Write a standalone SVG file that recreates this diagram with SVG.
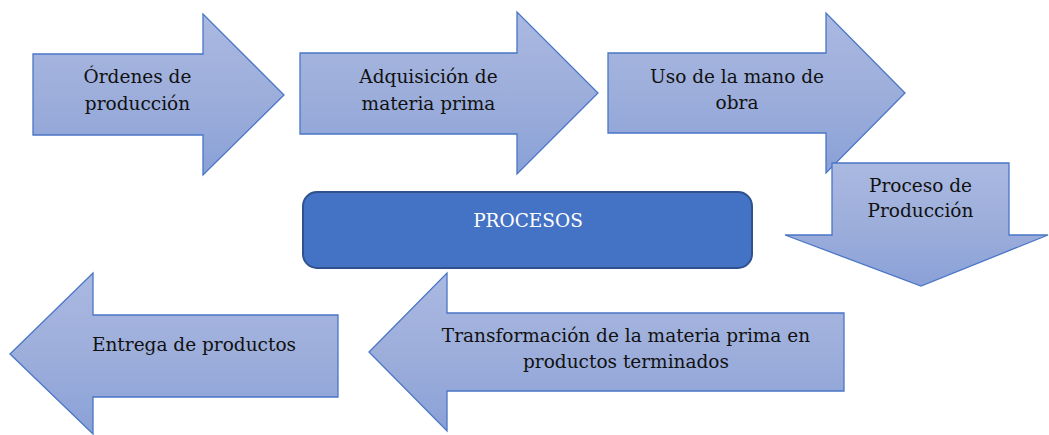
<svg xmlns="http://www.w3.org/2000/svg" width="1049" height="435" viewBox="0 0 1049 435">
<defs>
<linearGradient id="g" x1="0" y1="0" x2="0" y2="1">
<stop offset="0" stop-color="#AAB9E1"/>
<stop offset="0.5" stop-color="#9DAEDB"/>
<stop offset="1" stop-color="#8AA1D7"/>
</linearGradient>
<style>
.arr{fill:url(#g);stroke:#4A76C6;stroke-width:1.3;stroke-linejoin:miter}
.t{font-family:"DejaVu Serif","Liberation Serif",serif;font-size:18.5px;fill:#111;text-anchor:middle}
.w{fill:#FFFFFF}
</style>
</defs>
<rect width="1049" height="435" fill="#FFFFFF"/>
<g id="connectors"></g>
<g id="n1">
<polygon class="arr" points="33,54 203,54 203,14 284,95 203,175 203,135 33,135"/>
<text class="t" x="137.5" y="83">Órdenes de</text>
<text class="t" x="137.5" y="110">producción</text>
</g>
<g id="n2">
<polygon class="arr" points="300,53 517,53 517,12 598,93 517,174 517,134 300,134"/>
<text class="t" x="428.5" y="83">Adquisición de</text>
<text class="t" x="428.5" y="110">materia prima</text>
</g>
<g id="n3">
<polygon class="arr" points="608,53 826,53 826,13 905,93 826,173 826,133 608,133"/>
<text class="t" x="737" y="83">Uso de la mano de</text>
<text class="t" x="737" y="109">obra</text>
</g>
<g id="n4">
<polygon class="arr" points="832,163 1009,163 1009,235 1048,235 921,286 785,235 832,235"/>
<text class="t" x="920.5" y="192">Proceso de</text>
<text class="t" x="920.5" y="217">Producción</text>
</g>
<g id="procesos">
<rect x="303" y="192" width="449" height="76" rx="14" ry="14" fill="#4472C4" stroke="#2F528F" stroke-width="2"/>
<text class="t w" x="528" y="227">PROCESOS</text>
</g>
<g id="n5">
<polygon class="arr" points="844,313 447,313 447,273 369,352 447,431 447,391 844,391"/>
<text class="t" x="626" y="342">Transformación de la materia prima en</text>
<text class="t" x="626" y="368">productos terminados</text>
</g>
<g id="n6">
<polygon class="arr" points="338,315 93,315 93,273 10,354 93,434 93,397 338,397"/>
<text class="t" x="194" y="351">Entrega de productos</text>
</g>
</svg>
